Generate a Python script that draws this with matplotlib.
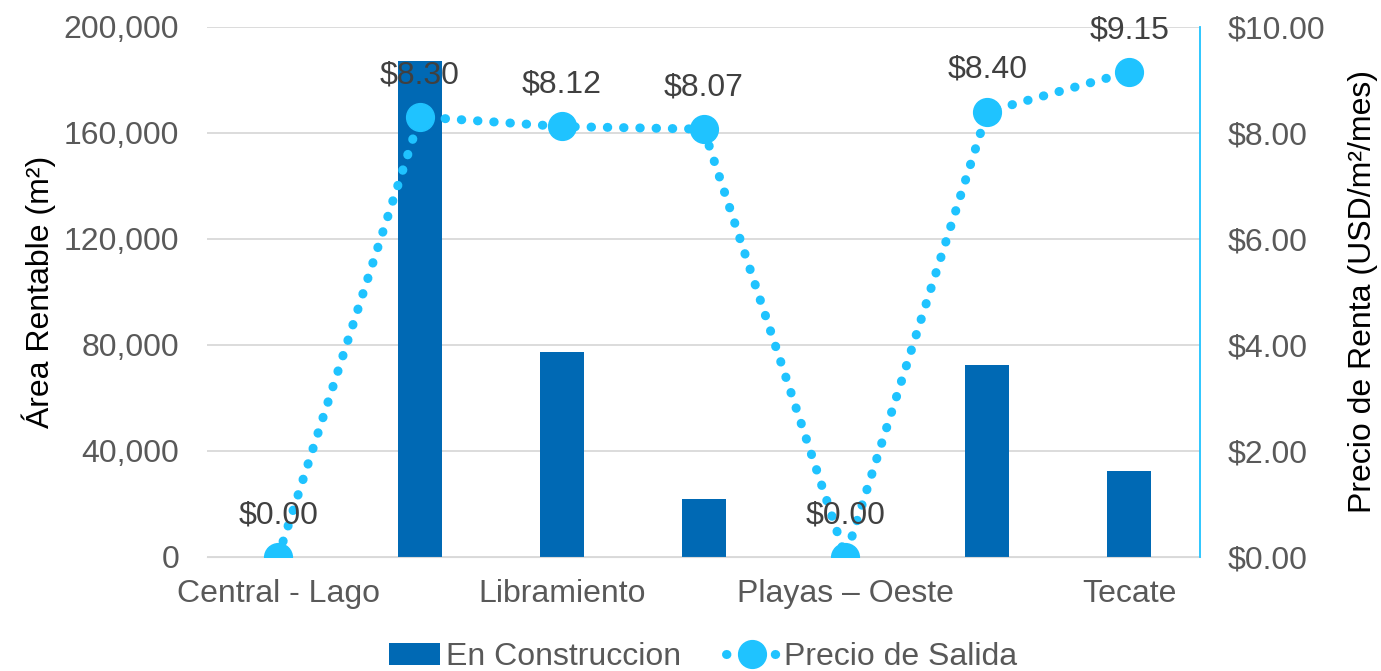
import numpy as np
import matplotlib.pyplot as plt
from matplotlib.ticker import FuncFormatter

plt.rcParams['font.family'] = ['Liberation Sans', 'DejaVu Sans']

# data
categorias = ["Central - Lago", "", "Libramiento", "", "Playas – Oeste", "", "Tecate"]
en_construccion = [0, 187000, 77500, 22000, 0, 72500, 32500]
precio_salida = [0.00, 8.30, 8.12, 8.07, 0.00, 8.40, 9.15]

bar_color = '#0069B4'
line_color = '#1FC3FF'
tick_color = '#595959'
fs = 23

fig = plt.figure(figsize=(13.81, 6.71), dpi=100)
ax = fig.add_axes([0.15, 0.17, 0.719, 0.79])
x = np.arange(len(categorias))

ax.bar(x, en_construccion, width=0.31, color=bar_color, label='En Construccion', zorder=2)
ax.set_ylim(0, 200000)
ax.set_yticks(np.arange(0, 200001, 40000))
ax.yaxis.set_major_formatter(FuncFormatter(lambda v, p: f'{int(v):,}'))
ax.set_xlim(-0.5, len(categorias) - 0.5)
ax.set_xticks(x)
ax.set_xticklabels(categorias)
ax.grid(axis='y', color='#D9D9D9', linewidth=1.3, zorder=0)
ax.set_axisbelow(True)
ax.tick_params(axis='both', length=0, labelsize=fs, labelcolor=tick_color, pad=20)
ax.tick_params(axis='x', pad=16)
for s in ['top', 'left', 'right']:
    ax.spines[s].set_visible(False)
ax.spines['bottom'].set_color('#D9D9D9')
ax.set_ylabel('Área Rentable (m²)', fontsize=fs, labelpad=6)

ax2 = ax.twinx()
ax2.plot(x, precio_salida, color=line_color, linestyle=(0, (0.05, 1.75)), linewidth=6.5,
         dash_capstyle='round', marker='o', markersize=20, label='Precio de Salida', zorder=3)
ax2.set_ylim(0, 10)
ax2.set_yticks(np.arange(0, 10.01, 2))
ax2.yaxis.set_major_formatter(FuncFormatter(lambda v, p: f'${v:.2f}'))
ax2.tick_params(axis='y', length=0, labelsize=fs, labelcolor=tick_color, pad=20)
for s in ['top', 'left', 'bottom']:
    ax2.spines[s].set_visible(False)
ax2.spines['right'].set_color(line_color)
ax2.spines['right'].set_linewidth(1.3)
ax2.set_ylabel('Precio de Renta (USD/m²/mes)', fontsize=fs, labelpad=16)

for xi, v in zip(x, precio_salida):
    ax2.annotate(f'${v:.2f}', (xi, v), xytext=(0, 30), textcoords='offset points',
                 ha='center', va='center', fontsize=fs, color='#404040', zorder=5)

h1, l1 = ax.get_legend_handles_labels()
h2, l2 = ax2.get_legend_handles_labels()
fig.legend(h1 + h2, l1 + l2, loc='lower center', bbox_to_anchor=(0.509, -0.045), ncol=2,
           frameon=False, fontsize=fs, labelcolor=tick_color, handlelength=1.6,
           handletextpad=0.2, columnspacing=1.4)

fig.savefig('out.png', dpi=100)
